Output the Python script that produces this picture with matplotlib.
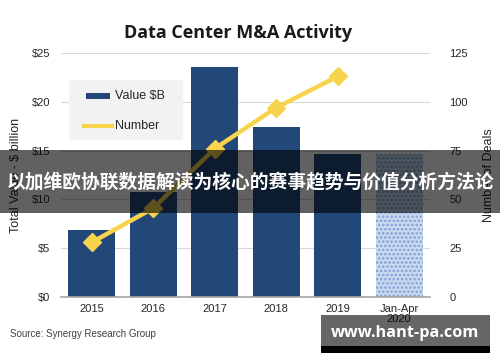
import matplotlib
matplotlib.use("Agg")
import matplotlib.pyplot as plt
from matplotlib.patches import Rectangle
import numpy as np

years = ["2015", "2016", "2017", "2018", "2019", "Jan-Apr\n2020"]
value_b = [6.9, 10.8, 23.6, 17.4, 14.7, 14.7]
deals = [28, 45.5, 76, 97, 113]

left_ticks = [0, 5, 10, 15, 20, 25]
right_ticks = [0, 25, 50, 75, 100, 125]

banner_text = "以加维欧协联数据解读为核心的赛事趋势与价值分析方法论"
watermark = "www.hant-pa.com"

plt.rcParams['font.family'] = ['Liberation Sans', 'DejaVu Sans']

navy = '#22487a'
yellow = '#f7d44c'
tick_col = '#262626'

fig = plt.figure(figsize=(5, 3.62), dpi=100)
ax = fig.add_axes([0.122, 0.1796, 0.738, 0.674])
ax2 = ax.twinx()

x = np.arange(len(years))
ax.bar(x[:5], value_b[:5], width=0.77, color=navy, zorder=2)
plt.rcParams['hatch.linewidth'] = 1.2
ax.bar(x[5], value_b[5], width=0.77, color='#c9d9f0', edgecolor='#7f9fd3',
       hatch='....', linewidth=0, zorder=2)

ax.set_xlim(-0.5, 5.5)
ax.set_ylim(0, 25)
ax.set_yticks(left_ticks)
ax.set_yticklabels(['$%d' % v for v in left_ticks], fontsize=8, color=tick_col)
ax.set_xticks(x)
ax.set_xticklabels(years, fontsize=8, color=tick_col, linespacing=1.0)
ax.grid(axis='y', color='#d9d9d9', linewidth=0.8, zorder=0)
ax.tick_params(length=0, pad=8)
ax.tick_params(axis='x', pad=5)
for s in ['top', 'left', 'right']:
    ax.spines[s].set_visible(False)
    ax2.spines[s].set_visible(False)
ax.spines['bottom'].set_color('#a6a6a6')
ax.spines['bottom'].set_linewidth(1.2)
ax2.spines['bottom'].set_visible(False)

ax2.plot(x[:5], deals, color=yellow, linewidth=3.2, marker='D', markersize=9,
         zorder=3)
ax2.set_ylim(0, 125)
ax2.set_yticks(right_ticks)
ax2.set_yticklabels([str(v) for v in right_ticks], fontsize=8, color=tick_col)
ax2.tick_params(length=0, pad=14)
ax.set_zorder(1)
ax2.set_zorder(2)
ax.patch.set_visible(False)

ax.set_ylabel('Total Value - $ billion', fontsize=9, color=tick_col, labelpad=7)
ax2.set_ylabel('Number of Deals', fontsize=9, color=tick_col, labelpad=11)

fig.text(0.476, 0.91, 'Data Center M&A Activity', ha='center', va='center',
         fontsize=13, fontweight='bold', family='Open Sans', color='#1a1a1a')

# legend box
fig.patches.append(Rectangle((69 / 500, 1 - 140 / 362), 114 / 500, 60 / 362,
                             transform=fig.transFigure, facecolor='#f2f2f2',
                             edgecolor='none', zorder=5))
fig.patches.append(Rectangle((86 / 500, 1 - 99 / 362), 24 / 500, 6 / 362,
                             transform=fig.transFigure, facecolor=navy,
                             edgecolor='none', zorder=6))
fig.lines.append(plt.Line2D([84 / 500, 112 / 500], [1 - 126 / 362] * 2,
                            transform=fig.transFigure, color=yellow, linewidth=3,
                            zorder=6))
fig.text(115 / 500, 1 - 96 / 362, 'Value $B', fontsize=9, va='center', color=tick_col, zorder=7)
fig.text(115 / 500, 1 - 126 / 362, 'Number', fontsize=9, va='center', color=tick_col, zorder=7)

fig.text(10 / 500, 1 - 334 / 362, 'Source: Synergy Research Group', fontsize=7,
         color='#404040', va='center')

# overlay banner
fig.patches.append(Rectangle((0, 1 - 213 / 362), 1, 63 / 362, transform=fig.transFigure,
                             facecolor='black', alpha=0.62, edgecolor='none', zorder=10))
fig.text(0.5, 1 - 182 / 362, banner_text, ha='center', va='center', color='white',
         fontsize=13.5, fontweight='bold', family=['Noto Sans CJK SC', 'DejaVu Sans'],
         zorder=11)

# watermark
fig.patches.append(Rectangle((321 / 500, 1 - 346 / 362), 169 / 500, 31 / 362,
                             transform=fig.transFigure, facecolor='black', alpha=0.6,
                             edgecolor='none', zorder=10))
fig.patches.append(Rectangle((321 / 500, 1 - 353 / 362), 169 / 500, 7 / 362,
                             transform=fig.transFigure, facecolor='black',
                             edgecolor='none', zorder=10))
fig.text(405 / 500, 1 - 333 / 362, watermark, ha='center', va='center', color='white',
         fontsize=11.7, fontweight='bold', family='Open Sans', zorder=11)

fig.savefig('out.png', dpi=100)
